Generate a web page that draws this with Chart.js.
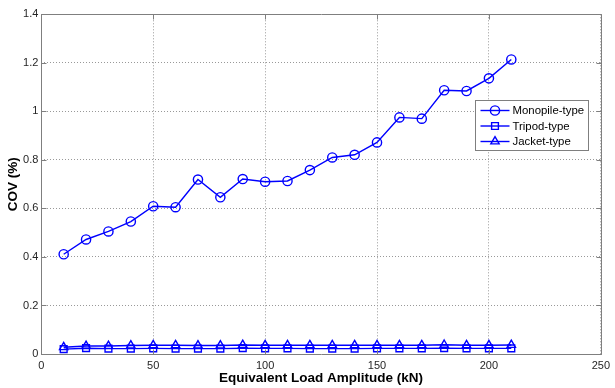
<!DOCTYPE html>
<html>
<head>
<meta charset="utf-8">
<script src="https://cdn.jsdelivr.net/npm/chart.js@4/dist/chart.umd.min.js"></script>
<style>
  html, body { margin: 0; padding: 0; background: #ffffff; }
  #wrap { width: 615px; height: 388px; }
</style>
</head>
<body>
<div id="wrap"><canvas id="cov" width="615" height="388"></canvas></div>
<script>
// Load amplitude (kN)
const loadAmplitude = [10, 20, 30, 40, 50, 60, 70, 80, 90, 100, 110, 120, 130, 140, 150, 160, 170, 180, 190, 200, 210];

// Coefficient of variation (%) per support structure
const monopileCov = [0.411, 0.472, 0.505, 0.546, 0.609, 0.605, 0.719, 0.646, 0.721, 0.710, 0.713, 0.758, 0.810, 0.821, 0.872, 0.975, 0.970, 1.087, 1.084, 1.136, 1.214];
const tripodCov   = [0.020, 0.024, 0.022, 0.022, 0.023, 0.022, 0.022, 0.022, 0.024, 0.023, 0.023, 0.022, 0.022, 0.022, 0.023, 0.023, 0.023, 0.024, 0.023, 0.023, 0.023];
const jacketCov   = [0.028, 0.033, 0.033, 0.035, 0.036, 0.036, 0.035, 0.035, 0.037, 0.036, 0.036, 0.036, 0.036, 0.036, 0.036, 0.036, 0.036, 0.038, 0.036, 0.036, 0.037];

const seriesNames = ['Monopile-type', 'Tripod-type', 'Jacket-type'];
const xTickLabels = ['0', '50', '100', '150', '200', '250'];
const yTickLabels = ['0', '0.2', '0.4', '0.6', '0.8', '1', '1.2', '1.4'];

const xAxisTitle = 'Equivalent Load Amplitude (kN)';
const yAxisTitle = 'COV (%)';

const BLUE = '#0000ff';
const FONT = 'Arial, "Liberation Sans", Helvetica, sans-serif';

function toPoints(ys) {
  return loadAmplitude.map((x, i) => ({ x: x, y: ys[i] }));
}

function series(label, ys, style, radius) {
  return {
    label: label,
    data: toPoints(ys),
    borderColor: BLUE,
    backgroundColor: 'rgba(0,0,0,0)',
    borderWidth: 1.4,
    pointStyle: style,
    pointRadius: radius,
    pointHoverRadius: radius,
    pointBorderColor: BLUE,
    pointBackgroundColor: 'rgba(0,0,0,0)',
    pointBorderWidth: 1.4,
    tension: 0,
    fill: false
  };
}

// Plot frame with inward tick marks, in the style of a boxed axes
const framePlugin = {
  id: 'frame',
  afterDatasetsDraw(chart) {
    const { ctx, chartArea: a, scales } = chart;
    ctx.save();
    ctx.strokeStyle = '#7f7f7f';
    ctx.lineWidth = 1;
    const L = Math.round(a.left) + 0.5, R = Math.round(a.right) + 0.5;
    const T = Math.round(a.top) + 0.5, B = Math.round(a.bottom) + 0.5;
    ctx.beginPath();
    ctx.rect(L, T, R - L, B - T);
    const tk = 5;
    scales.x.ticks.forEach(t => {
      const px = Math.round(scales.x.getPixelForValue(t.value)) + 0.5;
      ctx.moveTo(px, B); ctx.lineTo(px, B - tk);
      ctx.moveTo(px, T); ctx.lineTo(px, T + tk);
    });
    scales.y.ticks.forEach(t => {
      const py = Math.round(scales.y.getPixelForValue(t.value)) + 0.5;
      ctx.moveTo(L, py); ctx.lineTo(L + tk, py);
      ctx.moveTo(R, py); ctx.lineTo(R - tk, py);
    });
    ctx.stroke();
    ctx.restore();
  }
};

// Boxed legend placed inside the plot area at the right
const boxLegendPlugin = {
  id: 'boxLegend',
  afterDraw(chart) {
    const { ctx } = chart;
    const x0 = 475.5, y0 = 100.5, w = 113, h = 50;
    ctx.save();
    ctx.fillStyle = '#ffffff';
    ctx.fillRect(x0, y0, w, h);
    ctx.strokeStyle = '#7f7f7f';
    ctx.lineWidth = 1;
    ctx.strokeRect(x0, y0, w, h);
    ctx.font = '11.4px ' + FONT;
    ctx.textBaseline = 'middle';
    ctx.textAlign = 'left';
    chart.data.datasets.forEach((ds, i) => {
      const cy = y0 + 10 + i * 15.5;
      ctx.strokeStyle = ds.borderColor;
      ctx.lineWidth = ds.borderWidth;
      ctx.beginPath();
      ctx.moveTo(x0 + 5, cy);
      ctx.lineTo(x0 + 34, cy);
      ctx.stroke();
      ctx.fillStyle = 'rgba(0,0,0,0)';
      ctx.strokeStyle = ds.pointBorderColor;
      ctx.lineWidth = ds.pointBorderWidth;
      Chart.helpers.drawPoint(ctx, {
        pointStyle: ds.pointStyle,
        radius: ds.pointRadius,
        borderWidth: ds.pointBorderWidth,
        rotation: 0
      }, x0 + 19.5, cy);
      ctx.fillStyle = '#000000';
      ctx.fillText(ds.label, x0 + 37, cy + 0.5);
    });
    ctx.restore();
  }
};

new Chart(document.getElementById('cov'), {
  type: 'line',
  data: {
    datasets: [
      series(seriesNames[0], monopileCov, 'circle', 4.6),
      series(seriesNames[1], tripodCov, 'rect', 4.8),
      series(seriesNames[2], jacketCov, 'triangle', 4.8)
    ]
  },
  options: {
    responsive: false,
    animation: false,
    devicePixelRatio: 1,
    layout: { padding: { left: 0, right: 8.7, top: 14.3, bottom: 0 } },
    plugins: {
      legend: { display: false },
      tooltip: { enabled: false }
    },
    scales: {
      x: {
        type: 'linear',
        min: 0,
        max: 250,
        afterFit(scale) { scale.height = 34; },
        afterBuildTicks(scale) {
          scale.ticks = xTickLabels.map(v => ({ value: Number(v) }));
        },
        ticks: {
          padding: 5,
          maxRotation: 0,
          color: '#262626',
          font: { family: FONT, size: 11 },
          callback: (v, i) => xTickLabels[i]
        },
        grid: { color: '#999999', lineWidth: 1, drawTicks: false },
        border: { display: false, dash: [1, 2] },
        title: {
          display: true,
          text: xAxisTitle,
          color: '#000000',
          font: { family: FONT, size: 13.5, weight: 'bold' },
          padding: { top: 0, bottom: 2 }
        }
      },
      y: {
        type: 'linear',
        min: 0,
        max: 1.4,
        afterFit(scale) { scale.width = 41.3; },
        afterBuildTicks(scale) {
          scale.ticks = yTickLabels.map(v => ({ value: Number(v) }));
        },
        ticks: {
          padding: 3,
          color: '#262626',
          font: { family: FONT, size: 11 },
          callback: (v, i) => yTickLabels[i]
        },
        grid: { color: '#999999', lineWidth: 1, drawTicks: false },
        border: { display: false, dash: [1, 2] },
        title: {
          display: true,
          text: yAxisTitle,
          color: '#000000',
          font: { family: FONT, size: 13.5, weight: 'bold' },
          padding: { top: 5, bottom: 0 }
        }
      }
    }
  },
  plugins: [framePlugin, boxLegendPlugin]
});
</script>
</body>
</html>
